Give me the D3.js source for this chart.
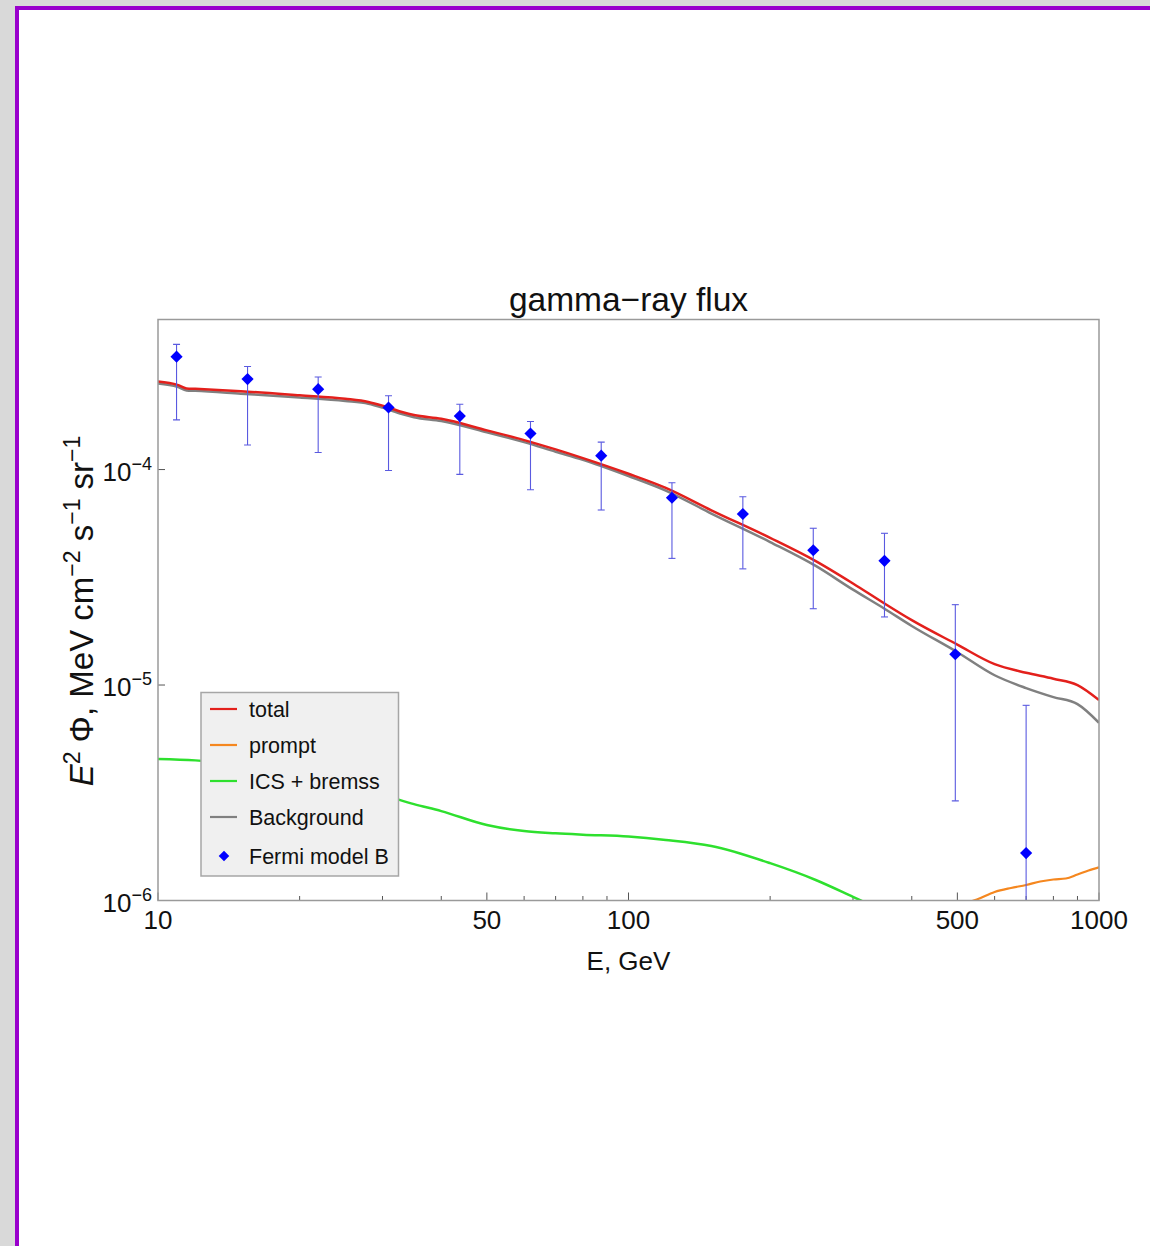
<!DOCTYPE html>
<html>
<head>
<meta charset="utf-8">
<script src="https://cdn.jsdelivr.net/npm/d3@7"></script>
<style>
  html, body { margin: 0; padding: 0; background: #d9d9d9; }
  svg { display: block; font-family: "Liberation Sans", Arial, sans-serif; }
</style>
</head>
<body>
<svg id="chart" width="1150" height="1246"></svg>
<script>
// ---------- data ----------
const energyGrid = [10, 11, 11.5, 12, 15, 20, 25, 28, 30, 33, 35, 40, 50, 60, 70, 80, 100, 120, 150, 200, 250, 300, 350, 400, 500, 600, 700, 800, 900, 1000];
const totalFlux = [2.56e-4, 2.47e-4, 2.38e-4, 2.37e-4, 2.31e-4, 2.21e-4, 2.13e-4, 2.06e-4, 1.98e-4, 1.85e-4, 1.79e-4, 1.72e-4, 1.52e-4, 1.37e-4, 1.24e-4, 1.13e-4, 9.56e-5, 8.22e-5, 6.47e-5, 4.82e-5, 3.76e-5, 2.96e-5, 2.39e-5, 2.00e-5, 1.54e-5, 1.25e-5, 1.14e-5, 1.07e-5, 1.00e-5, 8.52e-6];
const backgroundFlux = [2.51e-4, 2.42e-4, 2.33e-4, 2.32e-4, 2.25e-4, 2.16e-4, 2.08e-4, 2.02e-4, 1.94e-4, 1.81e-4, 1.75e-4, 1.68e-4, 1.49e-4, 1.34e-4, 1.21e-4, 1.11e-4, 9.33e-5, 7.99e-5, 6.25e-5, 4.61e-5, 3.57e-5, 2.77e-5, 2.26e-5, 1.88e-5, 1.42e-5, 1.11e-5, 9.68e-6, 8.79e-6, 8.16e-6, 6.68e-6];

const energyICS = [10, 12, 15, 20, 25, 30, 35, 40, 50, 60, 70, 80, 100, 120, 150, 200, 250, 300, 350];
const icsFlux = [4.54e-6, 4.47e-6, 4.25e-6, 3.82e-6, 3.40e-6, 3.09e-6, 2.80e-6, 2.60e-6, 2.24e-6, 2.10e-6, 2.05e-6, 2.02e-6, 1.98e-6, 1.91e-6, 1.79e-6, 1.49e-6, 1.245e-6, 1.04e-6, 8.9e-7];

const energyPrompt = [520, 550, 600, 650, 700, 750, 800, 850, 900, 950, 1000];
const promptFlux = [9.7e-7, 1.01e-6, 1.095e-6, 1.143e-6, 1.18e-6, 1.225e-6, 1.252e-6, 1.265e-6, 1.32e-6, 1.377e-6, 1.426e-6];

const fermiE = [10.95, 15.5, 21.9, 30.9, 43.8, 61.9, 87.5, 123.7, 175, 247, 350, 495, 700];
const fermiFlux = [3.34e-4, 2.63e-4, 2.36e-4, 1.94e-4, 1.77e-4, 1.47e-4, 1.16e-4, 7.40e-5, 6.22e-5, 4.22e-5, 3.77e-5, 1.39e-5, 1.66e-6];
const fermiHigh = [3.81e-4, 3.01e-4, 2.69e-4, 2.20e-4, 2.01e-4, 1.67e-4, 1.34e-4, 8.69e-5, 7.48e-5, 5.34e-5, 5.06e-5, 2.36e-5, 8.05e-6];
const fermiLow = [1.70e-4, 1.30e-4, 1.20e-4, 0.99e-4, 0.95e-4, 8.06e-5, 6.49e-5, 3.87e-5, 3.46e-5, 2.26e-5, 2.07e-5, 2.90e-6, 1e-7];

const xMajorTicks = [10, 50, 100, 500, 1000];
const xMinorTicks = [20, 30, 40, 60, 70, 80, 90, 200, 300, 400, 600, 700, 800, 900];
const yTicks = [1e-6, 1e-5, 1e-4];
const yTickExponents = ["−6", "−5", "−4"];

const legendLabels = ["total", "prompt", "ICS + bremss", "Background", "Fermi model B"];
const seriesColors = { total: "#e3201c", prompt: "#f5871f", ics: "#2ee02e", background: "#808080", fermi: "#0000ff" };

// ---------- layout ----------
const svg = d3.select("#chart");
const L = 158, R = 1099, T = 319.5, B = 900.5;

// page frame
svg.append("rect").attr("x", 15).attr("y", 6).attr("width", 1135).attr("height", 1240).attr("fill", "#ffffff");
svg.append("rect").attr("x", 15).attr("y", 6).attr("width", 1135).attr("height", 4).attr("fill", "#9900cc");
svg.append("rect").attr("x", 15).attr("y", 6).attr("width", 4).attr("height", 1240).attr("fill", "#9900cc");

const x = d3.scaleLog().domain([10, 1000]).range([L, R]);
const y = d3.scaleLog().domain([1e-6, 4.97e-4]).range([B, T]);

svg.append("defs").append("clipPath").attr("id", "plotclip")
  .append("rect").attr("x", L).attr("y", T).attr("width", R - L).attr("height", B - T);

// ticks (inside)
const tickG = svg.append("g").attr("stroke", "#555").attr("stroke-width", 1);
xMajorTicks.forEach(v => tickG.append("line").attr("x1", x(v)).attr("x2", x(v)).attr("y1", B).attr("y2", B - 8));
xMinorTicks.forEach(v => tickG.append("line").attr("x1", x(v)).attr("x2", x(v)).attr("y1", B).attr("y2", B - 4.5));
yTicks.forEach(v => tickG.append("line").attr("x1", L).attr("x2", L + 7).attr("y1", y(v)).attr("y2", y(v)));

// curves
const plot = svg.append("g").attr("clip-path", "url(#plotclip)");
const mkLine = (xs) => d3.line().x((d, i) => x(xs[i])).y(d => y(d)).curve(d3.curveMonotoneX);

plot.append("path").datum(icsFlux).attr("d", mkLine(energyICS)).attr("fill", "none")
  .attr("stroke", seriesColors.ics).attr("stroke-width", 2.5);
plot.append("path").datum(promptFlux).attr("d", mkLine(energyPrompt)).attr("fill", "none")
  .attr("stroke", seriesColors.prompt).attr("stroke-width", 2.2);
plot.append("path").datum(backgroundFlux).attr("d", mkLine(energyGrid)).attr("fill", "none")
  .attr("stroke", seriesColors.background).attr("stroke-width", 2.5);
plot.append("path").datum(totalFlux).attr("d", mkLine(energyGrid)).attr("fill", "none")
  .attr("stroke", seriesColors.total).attr("stroke-width", 2.5);

// error bars
const eb = plot.append("g").attr("stroke", "#5a5ae0").attr("stroke-width", 1.1);
fermiE.forEach((e, i) => {
  const cx = x(e);
  eb.append("line").attr("x1", cx).attr("x2", cx).attr("y1", y(fermiHigh[i])).attr("y2", y(fermiLow[i]));
  eb.append("line").attr("x1", cx - 3.5).attr("x2", cx + 3.5).attr("y1", y(fermiHigh[i])).attr("y2", y(fermiHigh[i]));
  eb.append("line").attr("x1", cx - 3.5).attr("x2", cx + 3.5).attr("y1", y(fermiLow[i])).attr("y2", y(fermiLow[i]));
});
const diamond = d3.symbol().type(d3.symbolSquare).size(74);
plot.append("g").selectAll("path").data(fermiE).join("path")
  .attr("d", diamond)
  .attr("transform", (d, i) => `translate(${x(d)},${y(fermiFlux[i])}) rotate(45)`)
  .attr("fill", seriesColors.fermi);

// frame
svg.append("rect").attr("x", L).attr("y", T).attr("width", R - L).attr("height", B - T)
  .attr("fill", "none").attr("stroke", "#9a9a9a").attr("stroke-width", 1.5);

// x tick labels
svg.append("g").selectAll("text").data(xMajorTicks).join("text")
  .attr("x", d => x(d)).attr("y", 929).attr("text-anchor", "middle")
  .attr("font-size", 26).attr("fill", "#111").text(d => d);

// y tick labels
yTicks.forEach((v, i) => {
  const t = svg.append("text").attr("x", 152).attr("y", y(v) + 11).attr("text-anchor", "end")
    .attr("font-size", 26).attr("fill", "#111");
  t.append("tspan").text("10");
  t.append("tspan").attr("dy", -11).attr("font-size", 18).text(yTickExponents[i]);
});

// axis labels & title
svg.append("text").attr("x", (L + R) / 2).attr("y", 970).attr("text-anchor", "middle")
  .attr("font-size", 26).attr("fill", "#111").text("E, GeV");

svg.append("text").attr("x", (L + R) / 2).attr("y", 311).attr("text-anchor", "middle")
  .attr("font-size", 33.5).attr("fill", "#111").text("gamma−ray flux");

const yl = svg.append("text").attr("transform", `translate(93,${(T + B) / 2 + 1}) rotate(-90)`)
  .attr("text-anchor", "middle").attr("font-size", 33).attr("fill", "#111");
yl.append("tspan").attr("font-style", "italic").text("E");
yl.append("tspan").attr("dy", -13).attr("font-size", 23).text("2");
yl.append("tspan").attr("dy", 13).text(" Φ, MeV cm");
yl.append("tspan").attr("dy", -13).attr("font-size", 23).text("−2");
yl.append("tspan").attr("dy", 13).text(" s");
yl.append("tspan").attr("dy", -13).attr("font-size", 23).text("−1");
yl.append("tspan").attr("dy", 13).text(" sr");
yl.append("tspan").attr("dy", -13).attr("font-size", 23).text("−1");

// legend
const lg = svg.append("g");
lg.append("rect").attr("x", 201).attr("y", 692.5).attr("width", 197.5).attr("height", 183.5)
  .attr("fill", "#f0f0f0").attr("stroke", "#a6a6a6").attr("stroke-width", 1.5);
const legendColors = [seriesColors.total, seriesColors.prompt, seriesColors.ics, seriesColors.background, seriesColors.fermi];
const legendY = [709, 745, 781, 817, 856];
legendLabels.forEach((lab, i) => {
  if (i < 4) {
    lg.append("line").attr("x1", 210).attr("x2", 237).attr("y1", legendY[i]).attr("y2", legendY[i])
      .attr("stroke", legendColors[i]).attr("stroke-width", 2.2);
  } else {
    lg.append("path").attr("d", d3.symbol().type(d3.symbolSquare).size(56))
      .attr("transform", `translate(224,${legendY[i]}) rotate(45)`).attr("fill", legendColors[i]);
  }
  lg.append("text").attr("x", 249).attr("y", legendY[i] + 7.5).attr("font-size", 21.5)
    .attr("fill", "#111").text(lab);
});
</script>
</body>
</html>
